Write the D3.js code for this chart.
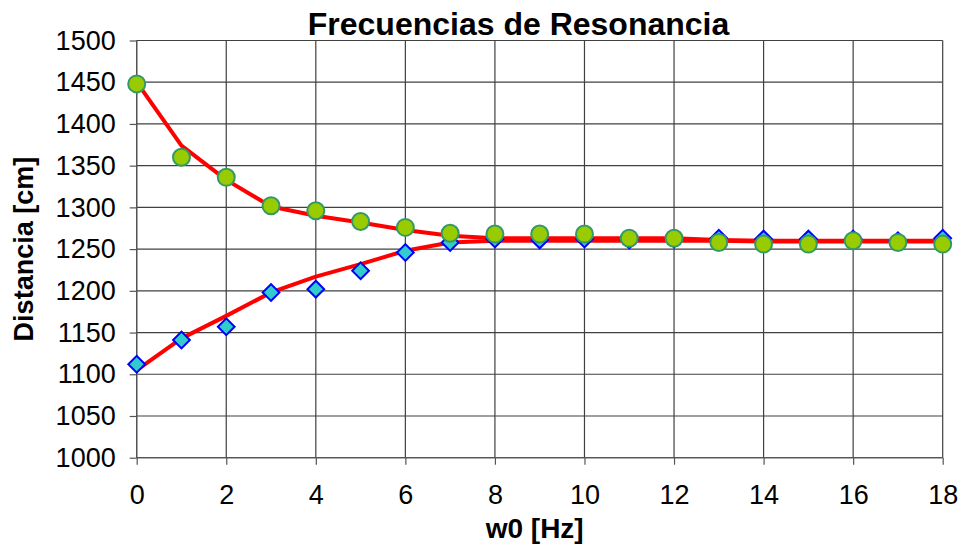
<!DOCTYPE html>
<html lang="es">
  <head>
    <meta charset="utf-8">
    <title>Frecuencias de Resonancia</title>
    <script src="https://d3js.org/d3.v7.min.js"></script>
    <style>
      body { margin: 0; background: #fff; }
      text { font-family: "Liberation Sans", Arial, sans-serif; fill: #000; }
    </style>
  </head>
  <body>
    <script>
    // data
    var w0 = [0, 1, 2, 3, 4, 5, 6, 7, 8, 9, 10, 11, 12, 13, 14, 15, 16, 17, 18];
    var upper = [1448, 1360, 1336, 1302, 1296, 1283, 1276, 1269, 1268, 1268, 1268, 1263, 1263, 1258, 1256, 1256, 1260, 1258, 1256];
    var lower = [1112, 1141, 1157, 1198, 1202, 1224, 1246, 1258, 1262, 1261, 1262, 1261, 1262, 1263, 1262, 1262, 1262, 1260, 1263];
    var fitUpper = [1450, 1374, 1333, 1301, 1290, 1282, 1273, 1266, 1263, 1263, 1263, 1263, 1263, 1261, 1260, 1260, 1260, 1260, 1260];
    var fitLower = [1105, 1143, 1170, 1198, 1217, 1232, 1248, 1258, 1260, 1260, 1260, 1260, 1260, 1260, 1259, 1259, 1259, 1259, 1259];
    var xTicks = [0, 2, 4, 6, 8, 10, 12, 14, 16, 18];
    var yTicks = [1000, 1050, 1100, 1150, 1200, 1250, 1300, 1350, 1400, 1450, 1500];

    var w = 962, h = 546;
    var pLeft = 136.7, pRight = 942.7, pTop = 40.5, pBottom = 457.7;

    var x = d3.scaleLinear().domain([0, 18]).range([pLeft, pRight]);
    var y = d3.scaleLinear().domain([1000, 1500]).range([pBottom, pTop]);

    var svg = d3.select("body").append("svg").attr("width", w).attr("height", h);

    // grid
    svg.append("g").selectAll("line").data(yTicks).enter().append("line")
      .attr("x1", pLeft).attr("x2", pRight)
      .attr("y1", function(d) { return y(d); }).attr("y2", function(d) { return y(d); })
      .attr("stroke", "#404040").attr("stroke-width", 1.2);
    svg.append("g").selectAll("line").data(xTicks).enter().append("line")
      .attr("y1", pTop).attr("y2", pBottom)
      .attr("x1", function(d) { return x(d); }).attr("x2", function(d) { return x(d); })
      .attr("stroke", "#404040").attr("stroke-width", 1.2);

    // axes
    var xAxis = d3.axisBottom(x).tickValues(xTicks).tickFormat(d3.format("d")).tickSize(7).tickPadding(20);
    var gx = svg.append("g").attr("transform", "translate(0," + pBottom + ")").call(xAxis);
    var yAxis = d3.axisLeft(y).tickValues(yTicks).tickFormat(d3.format("d")).tickSize(7).tickPadding(14);
    var gy = svg.append("g").attr("transform", "translate(" + pLeft + ",0)").call(yAxis);
    [gx, gy].forEach(function(g) {
      g.selectAll("path, line").attr("stroke", "#555").attr("stroke-width", 1.2);
      g.selectAll("text").attr("font-size", 27).attr("font-family", "Liberation Sans, Arial, sans-serif");
    });
    gx.select(".domain").attr("d", "M" + pLeft + ",0H" + pRight);
    gy.select(".domain").attr("d", "M0," + pBottom + "V" + pTop);

    // fitted curves
    var line = d3.line().x(function(d, i) { return x(w0[i]); }).y(function(d) { return y(d); });
    [fitLower, fitUpper].forEach(function(s) {
      svg.append("path").datum(s).attr("d", line)
        .attr("fill", "none").attr("stroke", "#ff0000").attr("stroke-width", 4)
        .attr("stroke-linejoin", "round");
    });

    // measured points
    var diamond = d3.symbol().type(d3.symbolSquare).size(140);
    svg.append("g").selectAll("path").data(lower).enter().append("path")
      .attr("d", diamond)
      .attr("transform", function(d, i) { return "translate(" + x(w0[i]) + "," + y(d) + ") rotate(45)"; })
      .attr("fill", "#33cccc").attr("stroke", "#0000ff").attr("stroke-width", 2);
    svg.append("g").selectAll("circle").data(upper).enter().append("circle")
      .attr("cx", function(d, i) { return x(w0[i]); })
      .attr("cy", function(d) { return y(d); })
      .attr("r", 8.5)
      .attr("fill", "#99cc00").attr("stroke", "#339966").attr("stroke-width", 2);

    // titles
    svg.append("text").attr("x", 518.5).attr("y", 35).attr("text-anchor", "middle")
      .attr("font-size", 32).attr("font-weight", "bold").text("Frecuencias de Resonancia");
    svg.append("text").attr("x", (pLeft + pRight) / 2 - 5).attr("y", 538).attr("text-anchor", "middle")
      .attr("font-size", 28).attr("font-weight", "bold").text("w0 [Hz]");
    svg.append("text").attr("transform", "translate(33," + ((pTop + pBottom) / 2) + ") rotate(-90)")
      .attr("text-anchor", "middle")
      .attr("font-size", 27).attr("font-weight", "bold").text("Distancia [cm]");
    </script>
  </body>
</html>
